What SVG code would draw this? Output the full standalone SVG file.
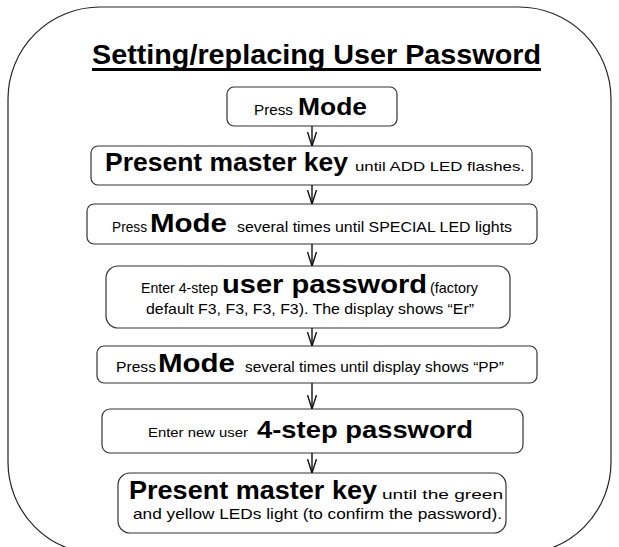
<svg xmlns="http://www.w3.org/2000/svg" width="619" height="547" viewBox="0 0 619 547">
<style>
text{font-family:"Liberation Sans",Arial,sans-serif;fill:#000}
.b{font-weight:bold}
.box{fill:#fff;stroke:#333;stroke-width:1.2}
.con line{stroke:#111;stroke-width:1.4;marker-end:url(#arr)}
</style>
<defs>
<marker id="arr" markerUnits="userSpaceOnUse" viewBox="0 0 14 10" refX="14" refY="5" markerWidth="14" markerHeight="10" orient="auto">
<path d="M0,0.5 L14,5 L0,9.5" fill="none" stroke="#111" stroke-width="1.4"/>
</marker>
</defs>
<rect id="frame" x="8" y="7" width="603" height="547" rx="92" ry="92" fill="#fff" stroke="#222" stroke-width="1.2"/>
<g id="title">
<text x="92" y="64" font-size="27" class="b" textLength="449" lengthAdjust="spacingAndGlyphs">Setting/replacing User Password</text>
<line x1="92" y1="69.5" x2="541" y2="69.5" stroke="#000" stroke-width="3"/>
</g>
<g id="n1"><rect class="box" x="227" y="87" width="170" height="39" rx="7"/>
<text x="254" y="115" font-size="15" textLength="39" lengthAdjust="spacingAndGlyphs">Press</text>
<text x="298" y="115" font-size="23" class="b" textLength="69" lengthAdjust="spacingAndGlyphs">Mode</text></g>
<g id="n2"><rect class="box" x="91" y="146" width="441" height="39" rx="7"/>
<text x="105" y="171" font-size="26" class="b" textLength="243" lengthAdjust="spacingAndGlyphs">Present master key</text>
<text x="355" y="171" font-size="13.5" textLength="170" lengthAdjust="spacingAndGlyphs">until ADD LED flashes.</text></g>
<g id="n3"><rect class="box" x="87" y="204" width="450" height="40" rx="7"/>
<text x="112" y="232" font-size="14" textLength="35" lengthAdjust="spacingAndGlyphs">Press</text>
<text x="150" y="232" font-size="26" class="b" textLength="77" lengthAdjust="spacingAndGlyphs">Mode</text>
<text x="237" y="232" font-size="14" textLength="275" lengthAdjust="spacingAndGlyphs">several times until SPECIAL LED lights</text></g>
<g id="n4"><rect class="box" x="106" y="266" width="404" height="62" rx="12"/>
<text x="141" y="293" font-size="14" textLength="77" lengthAdjust="spacingAndGlyphs">Enter 4-step</text>
<text x="222" y="293" font-size="25" class="b" textLength="205" lengthAdjust="spacingAndGlyphs">user password</text>
<text x="430" y="293" font-size="14.5" textLength="48" lengthAdjust="spacingAndGlyphs">(factory</text>
<text x="146" y="314" font-size="14.5" textLength="328" lengthAdjust="spacingAndGlyphs">default F3, F3, F3, F3). The display shows “Er”</text></g>
<g id="n5"><rect class="box" x="97" y="346" width="440" height="37" rx="7"/>
<text x="116" y="372" font-size="14.5" textLength="40" lengthAdjust="spacingAndGlyphs">Press</text>
<text x="158" y="372" font-size="26" class="b" textLength="77" lengthAdjust="spacingAndGlyphs">Mode</text>
<text x="245" y="372" font-size="14.5" textLength="259" lengthAdjust="spacingAndGlyphs">several times until display shows “PP”</text></g>
<g id="n6"><rect class="box" x="102" y="409" width="421" height="44" rx="8"/>
<text x="148" y="437" font-size="13" textLength="100" lengthAdjust="spacingAndGlyphs">Enter new user</text>
<text x="257" y="438" font-size="24" class="b" textLength="216" lengthAdjust="spacingAndGlyphs">4-step password</text></g>
<g id="n7"><rect class="box" x="118" y="473" width="388" height="60" rx="12"/>
<text x="129" y="499" font-size="26" class="b" textLength="248" lengthAdjust="spacingAndGlyphs">Present master key</text>
<text x="382" y="499" font-size="13.5" textLength="121" lengthAdjust="spacingAndGlyphs">until the green</text>
<text x="133" y="519" font-size="14.5" textLength="369" lengthAdjust="spacingAndGlyphs">and yellow LEDs light (to confirm the password).</text></g>
<g id="connectors" class="con">
<line x1="312" y1="126" x2="312" y2="146"/>
<line x1="312" y1="185" x2="312" y2="204"/>
<line x1="312" y1="244" x2="312" y2="266"/>
<line x1="312" y1="328" x2="312" y2="346"/>
<line x1="312" y1="383" x2="312" y2="409"/>
<line x1="312" y1="453" x2="312" y2="473"/>
</g>
</svg>
